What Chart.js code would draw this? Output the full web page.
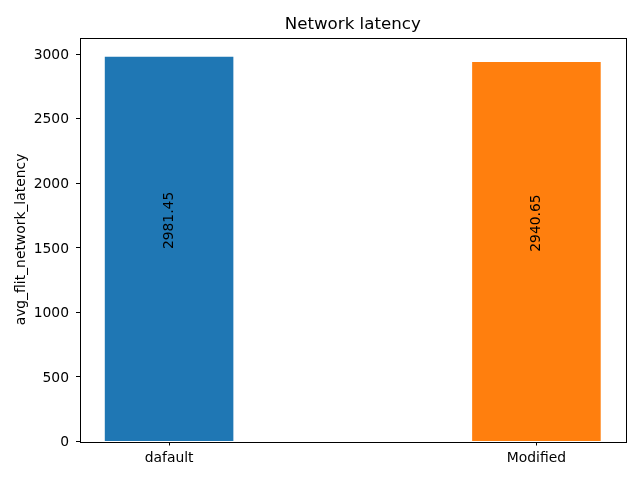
<!DOCTYPE html>
<html>
<head>
<meta charset="utf-8">
<script src="https://cdn.jsdelivr.net/npm/chart.js@4/dist/chart.umd.min.js"></script>
<style>html,body{margin:0;padding:0;background:#fff;}canvas{display:block;}</style>
</head>
<body>
<canvas id="c" width="640" height="480"></canvas>
<script>
const categories = ["dafault", "Modified"];
const latencyValues = [2981.45, 2940.65];
const barColors = ["#1f77b4", "#ff7f0e"];
const yTickValues = [0, 500, 1000, 1500, 2000, 2500, 3000];
const chartTitle = "Network latency";
const yAxisTitle = "avg_flit_network_latency";

const FONT = "'DejaVu Sans', sans-serif";
const FS = 13.89;

const framePlugin = {
  id: 'frame',
  afterDatasetsDraw(chart) {
    const ctx = chart.ctx;
    const a = chart.chartArea;
    const xs = chart.scales.x, ys = chart.scales.y;
    ctx.save();
    // value labels
    ctx.fillStyle = '#000';
    ctx.font = FS + "px " + FONT;
    ctx.textAlign = 'left';
    ctx.textBaseline = 'middle';
    latencyValues.forEach((v, i) => {
      const px = xs.getPixelForValue(i);
      const py = ys.getPixelForValue(v / 2);
      ctx.save();
      ctx.translate(px, py);
      ctx.rotate(-Math.PI / 2);
      ctx.fillText(v.toFixed(2), 0, 0);
      ctx.restore();
    });
    // frame
    ctx.strokeStyle = '#000';
    ctx.lineWidth = 1;
    ctx.strokeRect(Math.round(a.left) + 0.5, Math.round(a.top) + 0.5,
                   Math.round(a.right - a.left), Math.round(a.bottom - a.top));
    // title
    ctx.font = "16.67px " + FONT;
    ctx.textAlign = 'center';
    ctx.textBaseline = 'alphabetic';
    ctx.fillText(chartTitle, (a.left + a.right) / 2, 29);
    ctx.restore();
  }
};

new Chart(document.getElementById('c'), {
  type: 'bar',
  data: {
    datasets: [{
      data: latencyValues.map((v, i) => ({ x: i, y: v })),
      backgroundColor: barColors,
      borderWidth: 0,
      categoryPercentage: 0.35,
      barPercentage: 1.0
    }]
  },
  options: {
    responsive: false,
    animation: false,
    devicePixelRatio: 1,
    layout: { padding: { top: 37.5, right: 14.5, left: 0, bottom: 0 } },
    plugins: { legend: { display: false }, tooltip: { enabled: false }, title: { display: false } },
    scales: {
      x: {
        type: 'linear',
        offset: false,
        min: -0.2425,
        max: 1.2425,
        afterBuildTicks(s) { s.ticks = categories.map((c, i) => ({ value: i })); },
        afterFit(s) { s.height = 38.5; },
        ticks: {
          callback: (v) => categories[v] !== undefined ? categories[v] : '',
          color: '#000',
          font: { family: FONT, size: FS },
          padding: 5,
          maxRotation: 0,
          autoSkip: false
        },
        grid: { offset: false, drawOnChartArea: false, tickLength: 4, color: '#000', tickWidth: 1 },
        border: { display: false }
      },
      y: {
        type: 'linear',
        min: 0,
        max: 3130.5,
        afterBuildTicks(s) { s.ticks = yTickValues.map(v => ({ value: v })); },
        afterFit(s) { s.width = 80; },
        ticks: {
          color: '#000',
          font: { family: FONT, size: FS },
          padding: 7,
          labelOffset: 1,
          callback: (v) => String(v)
        },
        grid: { drawOnChartArea: false, tickLength: 4, color: '#000', tickWidth: 1 },
        border: { display: false },
        title: {
          display: true,
          text: yAxisTitle,
          color: '#000',
          font: { family: FONT, size: FS },
          padding: { top: 13.5, bottom: 0 }
        }
      }
    }
  },
  plugins: [framePlugin]
});
</script>
</body>
</html>
